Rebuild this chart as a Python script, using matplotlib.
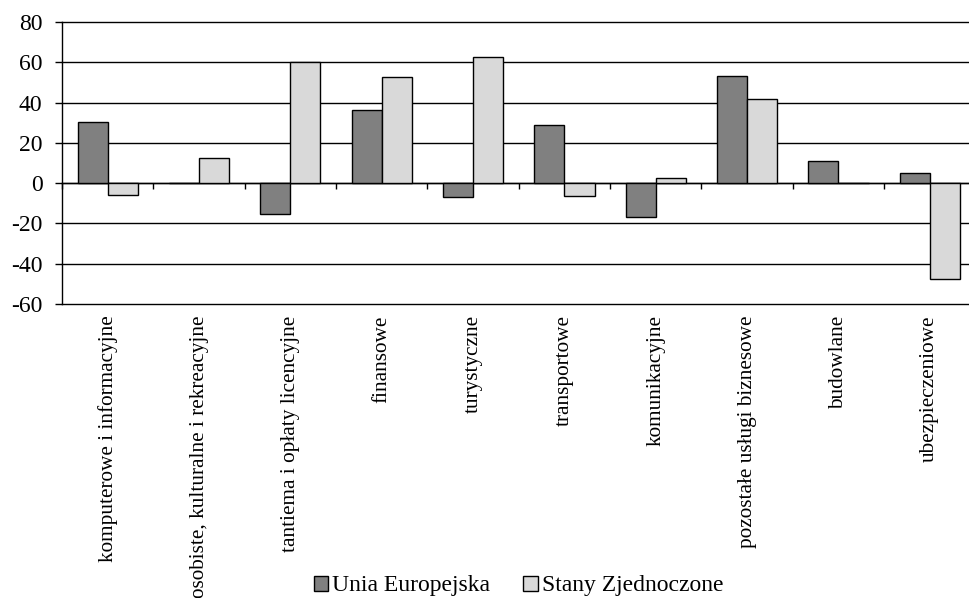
import numpy as np
import matplotlib
matplotlib.use('Agg')
import matplotlib.pyplot as plt

plt.rcParams['font.family'] = ['Liberation Serif', 'DejaVu Serif']
plt.rcParams['axes.unicode_minus'] = False

categories = ['komputerowe i informacyjne',
              'osobiste, kulturalne i rekreacyjne',
              'tantiema i opłaty licencyjne',
              'finansowe',
              'turystyczne',
              'transportowe',
              'komunikacyjne',
              'pozostałe usługi biznesowe',
              'budowlane',
              'ubezpieczeniowe']
unia = [30.3, 0.3, -15.4, 36.3, -6.8, 29.0, -16.8, 53.1, 11.1, 5.1]
stany = [-5.8, 12.3, 60.3, 52.6, 62.8, -6.5, 2.8, 42.0, 0.2, -47.4]
yticks = [-60, -40, -20, 0, 20, 40, 60, 80]

W, H = 970, 598
fig = plt.figure(figsize=(W / 100, H / 100), dpi=100)
ax = fig.add_axes([62 / W, 1 - 304 / H, (975.4 - 62) / W, (304 - 22) / H])

x = np.arange(len(categories))
w = 0.33
ax.bar(x - w / 2, unia, w, color='#808080', edgecolor='black', linewidth=1.0,
       label='Unia Europejska', zorder=3)
ax.bar(x + w / 2, stany, w, color='#d9d9d9', edgecolor='black', linewidth=1.0,
       label='Stany Zjednoczone', zorder=3)

ax.set_xlim(-0.5, len(categories) - 0.5)
ax.set_ylim(-60, 80)
ax.set_yticks(yticks)
ax.yaxis.grid(True, color='black', linewidth=1.0)
for gl in ax.get_ygridlines():
    gl.set_clip_on(False)
ax.set_axisbelow(True)
ax.tick_params(axis='y', labelsize=17, length=5, width=1.0, pad=9)

# category axis crosses at zero, ticks between categories
ax.spines['bottom'].set_position(('data', 0))
ax.spines['top'].set_visible(False)
ax.spines['right'].set_visible(False)
ax.spines['left'].set_linewidth(1.0)
ax.spines['bottom'].set_linewidth(1.0)
ax.set_xticks(np.arange(len(categories) + 1) - 0.5)
ax.set_xticklabels([])
ax.tick_params(axis='x', direction='out', length=4.5, width=1.0)

for i, name in enumerate(categories):
    ax.text(i, -0.04, name, transform=ax.get_xaxis_transform(), rotation=90,
            ha='center', va='top', fontsize=15.3)

leg = ax.legend(loc='center', bbox_to_anchor=(0.5, (304 - 586) / 282),
                ncol=2, frameon=False, fontsize=17, handlelength=0.6,
                handleheight=0.6, handletextpad=0.2, columnspacing=1.4,
                borderpad=0)

fig.savefig('out.png', dpi=100)
